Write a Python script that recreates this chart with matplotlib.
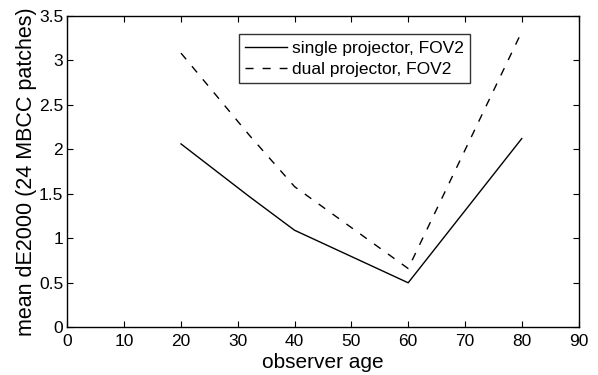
import matplotlib
matplotlib.use("Agg")
import matplotlib.pyplot as plt

# observer age groups
age = [20, 32, 40, 60, 80]
single_fov2 = [2.06, 1.47, 1.09, 0.50, 2.12]
dual_fov2 = [3.08, 2.16, 1.58, 0.66, 3.32]

plt.rcParams["font.family"] = ["Liberation Sans", "DejaVu Sans"]

fig = plt.figure(figsize=(5.98, 3.75), dpi=100)
ax = fig.add_axes([0.1127, 0.1272, 0.8548, 0.8309])

ax.plot(age, single_fov2, "-", color="black", linewidth=1.0, label="single projector, FOV2")
ax.plot(age, dual_fov2, "--", color="black", linewidth=1.0, dashes=(5.8, 6.5),
        label="dual projector, FOV2")

ax.set_xlim(0, 90)
ax.set_ylim(0, 3.5)
ax.set_xticks(range(0, 91, 10))
ax.set_yticks([0, 0.5, 1, 1.5, 2, 2.5, 3, 3.5])
ax.set_yticklabels(["0", "0.5", "1", "1.5", "2", "2.5", "3", "3.5"])
ax.tick_params(direction="in", top=True, right=True, labelsize=12.5, length=4, width=0.8)
ax.tick_params(axis="x", pad=4.5)
ax.tick_params(axis="y", pad=3)
for s in ax.spines.values():
    s.set_linewidth(1.0)

ax.set_xlabel("observer age", fontsize=15, labelpad=3)
ax.set_ylabel("mean dE2000 (24 MBCC patches)", fontsize=15.5, labelpad=1)

leg = ax.legend(loc="upper left", bbox_to_anchor=(0.336, 0.94), fontsize=12.5,
                frameon=True, fancybox=False, edgecolor="black", handlelength=2.4,
                handletextpad=0.3, borderpad=0.35, labelspacing=0.35, borderaxespad=0)
leg.get_frame().set_linewidth(1.0)

fig.savefig("out.png", dpi=100)
